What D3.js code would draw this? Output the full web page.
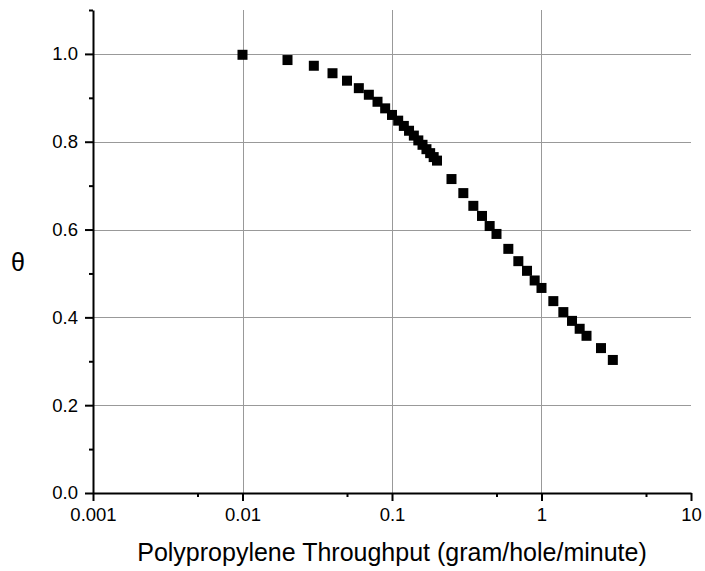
<!DOCTYPE html>
<html>
<head>
<meta charset="utf-8">
<script src="https://cdn.jsdelivr.net/npm/d3@7"></script>
<style>
  body { margin: 0; background: #fff; }
  svg { display: block; font-family: "Liberation Sans", Arial, sans-serif; }
</style>
</head>
<body>
<svg id="chart"></svg>
<script>
// throughput (gram/hole/minute) and theta
const throughput = [0.01, 0.02, 0.03, 0.04, 0.05, 0.06, 0.07, 0.08, 0.09, 0.1,
  0.11, 0.12, 0.13, 0.14, 0.15, 0.16, 0.17, 0.18, 0.19, 0.2,
  0.25, 0.3, 0.35, 0.4, 0.45, 0.5, 0.6, 0.7, 0.8, 0.9, 1.0,
  1.2, 1.4, 1.6, 1.8, 2.0, 2.5, 3.0];
const theta = [0.998, 0.986, 0.973, 0.956, 0.939, 0.922, 0.907, 0.891, 0.876, 0.861,
  0.848, 0.836, 0.825, 0.814, 0.803, 0.793, 0.783, 0.774, 0.765, 0.757,
  0.715, 0.683, 0.654, 0.631, 0.608, 0.590, 0.556, 0.528, 0.506, 0.484, 0.467,
  0.437, 0.412, 0.392, 0.374, 0.358, 0.330, 0.303];

const xMajor = [0.001, 0.01, 0.1, 1, 10];
const xMinor = [0.005, 0.05, 0.5, 5];
const xLabels = ["0.001", "0.01", "0.1", "1", "10"];
const yMajor = [0, 0.2, 0.4, 0.6, 0.8, 1.0];
const yMinor = [0.1, 0.3, 0.5, 0.7, 0.9, 1.1];

const width = 705, height = 571;
const margin = { top: 10, right: 14, bottom: 78, left: 93 };

const svg = d3.select('#chart')
  .attr('width', width)
  .attr('height', height);

const x = d3.scaleLog()
  .domain([0.001, 10])
  .range([margin.left, width - margin.right]);

const y = d3.scaleLinear()
  .domain([0, 1.1])
  .range([height - margin.bottom, margin.top]);

// grid
const grid = svg.append('g').attr('stroke', '#999').attr('stroke-width', 1);

grid.selectAll('line.h')
  .data(yMajor.filter(d => d > 0))
  .enter().append('line')
  .attr('class', 'h')
  .attr('x1', x.range()[0]).attr('x2', x.range()[1])
  .attr('y1', d => Math.round(y(d)) + 0.5).attr('y2', d => Math.round(y(d)) + 0.5);

grid.selectAll('line.v')
  .data(xMajor.slice(1, -1))
  .enter().append('line')
  .attr('class', 'v')
  .attr('x1', d => Math.round(x(d)) + 0.5).attr('x2', d => Math.round(x(d)) + 0.5)
  .attr('y1', y.range()[1]).attr('y2', y.range()[0]);

// points
const s = 10;
svg.append('g')
  .selectAll('rect')
  .data(throughput.map((t, i) => [t, theta[i]]))
  .enter().append('rect')
  .attr('x', d => x(d[0]) - s / 2)
  .attr('y', d => y(d[1]) - s / 2)
  .attr('width', s)
  .attr('height', s)
  .attr('fill', '#000');

// axes
function style(g) {
  g.selectAll('path, line').attr('stroke', '#000').attr('stroke-width', 2);
  g.selectAll('text').attr('fill', '#000').attr('font-size', 18.5)
    .attr('font-family', '"Liberation Sans", Arial, sans-serif');
}

const xb = height - margin.bottom;
svg.append('g')
  .attr('transform', `translate(0,${xb})`)
  .call(d3.axisBottom(x).tickValues(xMinor).tickSize(4).tickSizeOuter(0).tickFormat(''))
  .call(style)
  .call(g => g.select('.domain').remove());

svg.append('g')
  .attr('transform', `translate(0,${xb})`)
  .call(d3.axisBottom(x).tickValues(xMajor).tickSize(8).tickSizeOuter(0).tickPadding(7)
    .tickFormat((d, i) => xLabels[i]))
  .call(style);

svg.append('g')
  .attr('transform', `translate(${margin.left},0)`)
  .call(d3.axisLeft(y).tickValues(yMinor).tickSize(4).tickSizeOuter(0).tickFormat(''))
  .call(style)
  .call(g => g.select('.domain').remove());

svg.append('g')
  .attr('transform', `translate(${margin.left},0)`)
  .call(d3.axisLeft(y).tickValues(yMajor).tickSize(8).tickSizeOuter(0).tickPadding(7)
    .tickFormat(d3.format('.1f')))
  .call(style);

// titles
svg.append('text')
  .attr('x', (x.range()[0] + x.range()[1]) / 2)
  .attr('y', 561)
  .attr('text-anchor', 'middle')
  .attr('font-size', 25)
  .text('Polypropylene Throughput (gram/hole/minute)');

svg.append('text')
  .attr('x', 18)
  .attr('y', 271)
  .attr('text-anchor', 'middle')
  .attr('font-size', 25)
  .text('θ');
</script>
</body>
</html>
